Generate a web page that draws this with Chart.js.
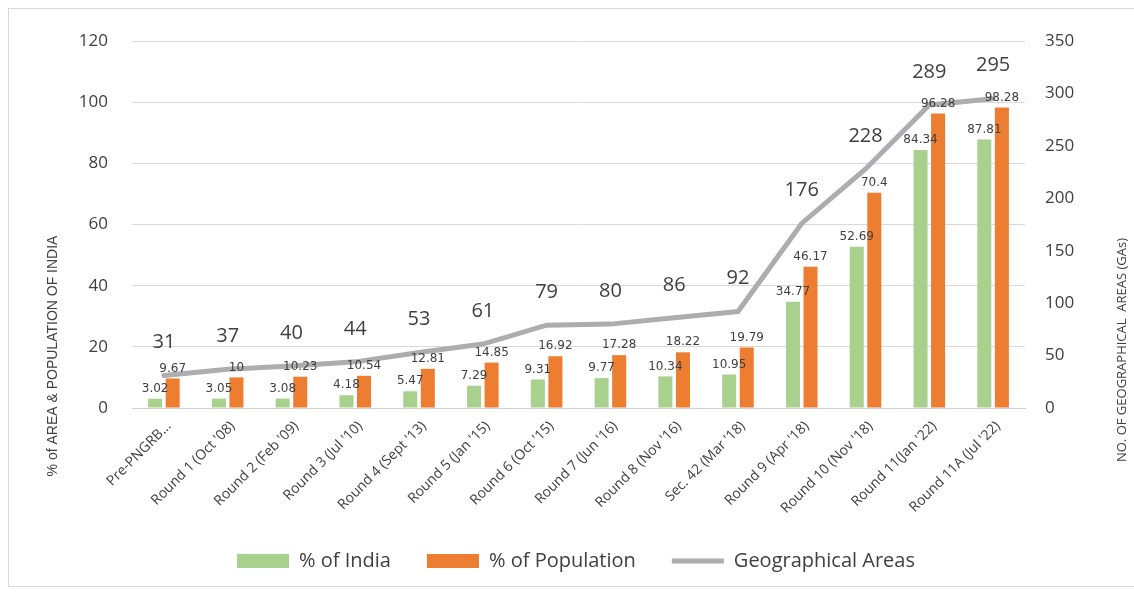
<!DOCTYPE html>
<html>
<head>
<meta charset="utf-8">
<script src="https://cdn.jsdelivr.net/npm/chart.js@4.4.0/dist/chart.umd.min.js"></script>
<style>
  html, body { margin: 0; padding: 0; background: #fff; }
  #wrap { position: relative; width: 1134px; height: 593px; overflow: hidden; }
  #frame { position: absolute; left: 8px; top: 8px; width: 1140px; height: 577px; border: 1px solid #d9d9d9; }
  canvas { position: absolute; left: 0; top: 0; }
</style>
</head>
<body>
<div id="wrap">
  <div id="frame"></div>
  <canvas id="chartGA" width="1134" height="593"></canvas>
</div>
<script>
// data
const categories = ["Pre-PNGRB...", "Round 1 (Oct '08)", "Round 2 (Feb '09)", "Round 3 (Jul '10)",
  "Round 4 (Sept '13)", "Round 5 (Jan '15)", "Round 6 (Oct '15)", "Round 7 (Jun '16)",
  "Round 8 (Nov '16)", "Sec. 42 (Mar '18)", "Round 9 (Apr '18)", "Round 10 (Nov '18)",
  "Round 11(Jan '22)", "Round 11A (Jul '22)"];
const areaPct = [3.02, 3.05, 3.08, 4.18, 5.47, 7.29, 9.31, 9.77, 10.34, 10.95, 34.77, 52.69, 84.34, 87.81];
const popPct = [9.67, 10, 10.23, 10.54, 12.81, 14.85, 16.92, 17.28, 18.22, 19.79, 46.17, 70.4, 96.28, 98.28];
const gaCount = [31, 37, 40, 44, 53, 61, 79, 80, 86, 92, 176, 228, 289, 295];
const leftTicks = [0, 20, 40, 60, 80, 100, 120];
const rightTicks = [0, 50, 100, 150, 200, 250, 300, 350];

const textColor = '#404040';

// value labels + axis titles
const labelPlugin = {
  id: 'labelPlugin',
  afterDatasetsDraw(chart) {
    const ctx = chart.ctx;
    ctx.save();
    ctx.fillStyle = textColor;
    ctx.textAlign = 'center';
    ctx.textBaseline = 'middle';
    chart.data.datasets.forEach((ds, i) => {
      const meta = chart.getDatasetMeta(i);
      meta.data.forEach((el, j) => {
        if (ds.type === 'line') {
          ctx.font = '20px "Open Sans"';
          ctx.fillText(String(ds.data[j]), el.x, el.y - 33);
        } else {
          ctx.font = '12px "DejaVu Sans"';
          ctx.fillText(String(ds.data[j]), el.x, el.y - 10);
        }
      });
    });
    // axis titles
    ctx.font = '14px "Liberation Sans"';
    ctx.save();
    ctx.translate(53, 356);
    ctx.rotate(-Math.PI / 2);
    ctx.fillText('% of AREA & POPULATION OF INDIA', 0, 0);
    ctx.restore();
    ctx.font = '13px "Open Sans"';
    ctx.save();
    ctx.translate(1122, 350);
    ctx.rotate(-Math.PI / 2);
    ctx.fillText('NO. OF GEOGRAPHICAL  AREAS (GAs)', 0, 0);
    ctx.restore();
    ctx.restore();
  }
};

var ctx = document.getElementById('chartGA');

var chartGA = new Chart(ctx, {
  data: {
    labels: categories,
    datasets: [
      {
        type: 'bar',
        label: '% of India',
        data: areaPct,
        backgroundColor: '#a9d18e',
        pointStyle: 'rect',
        yAxisID: 'y',
        order: 1,
        categoryPercentage: 0.55,
        barPercentage: 0.8
      },
      {
        type: 'bar',
        label: '% of Population',
        data: popPct,
        backgroundColor: '#ed7d31',
        pointStyle: 'rect',
        yAxisID: 'y',
        order: 1,
        categoryPercentage: 0.55,
        barPercentage: 0.8
      },
      {
        type: 'line',
        label: 'Geographical Areas',
        data: gaCount,
        borderColor: '#adadb1',
        backgroundColor: '#adadb1',
        borderWidth: 5,
        borderCapStyle: 'round',
        pointRadius: 0,
        pointStyle: 'line',
        tension: 0,
        yAxisID: 'y1',
        order: 0
      }
    ]
  },
  options: {
    responsive: false,
    animation: false,
    layout: { padding: { left: 18, right: 0, top: 41, bottom: 12 } },
    scales: {
      x: {
        grid: { display: false },
        border: { display: true, color: '#d0d0d0', width: 1 },
        ticks: {
          color: textColor,
          font: { family: 'Open Sans', size: 14 },
          maxRotation: 45,
          minRotation: 45,
          autoSkip: false,
          padding: 2,
          labelOffset: 5
        },
        afterFit(scale) { scale.height = 107; }
      },
      y: {
        position: 'left',
        min: 0,
        max: 120,
        afterBuildTicks(scale) { scale.ticks = leftTicks.map(v => ({ value: v })); },
        grid: { color: '#d9d9d9', lineWidth: 1, drawTicks: false },
        border: { display: false },
        ticks: { color: textColor, font: { family: 'Open Sans', size: 17 }, padding: 24 },
        afterFit(scale) { scale.width = 114; }
      },
      y1: {
        position: 'right',
        min: 0,
        max: 350,
        afterBuildTicks(scale) { scale.ticks = rightTicks.map(v => ({ value: v })); },
        grid: { drawOnChartArea: false, drawTicks: false },
        border: { display: false },
        ticks: { color: textColor, font: { family: 'Open Sans', size: 17 }, padding: 20 },
        afterFit(scale) { scale.width = 109; }
      }
    },
    plugins: {
      legend: {
        position: 'bottom',
        labels: {
          color: textColor,
          font: { family: 'Open Sans', size: 20 },
          usePointStyle: true,
          pointStyleWidth: 52,
          boxHeight: 14,
          padding: 36,
          sort: (a, b) => a.datasetIndex - b.datasetIndex
        }
      },
      tooltip: { enabled: false }
    }
  },
  plugins: [labelPlugin]
});
</script>
</body>
</html>
